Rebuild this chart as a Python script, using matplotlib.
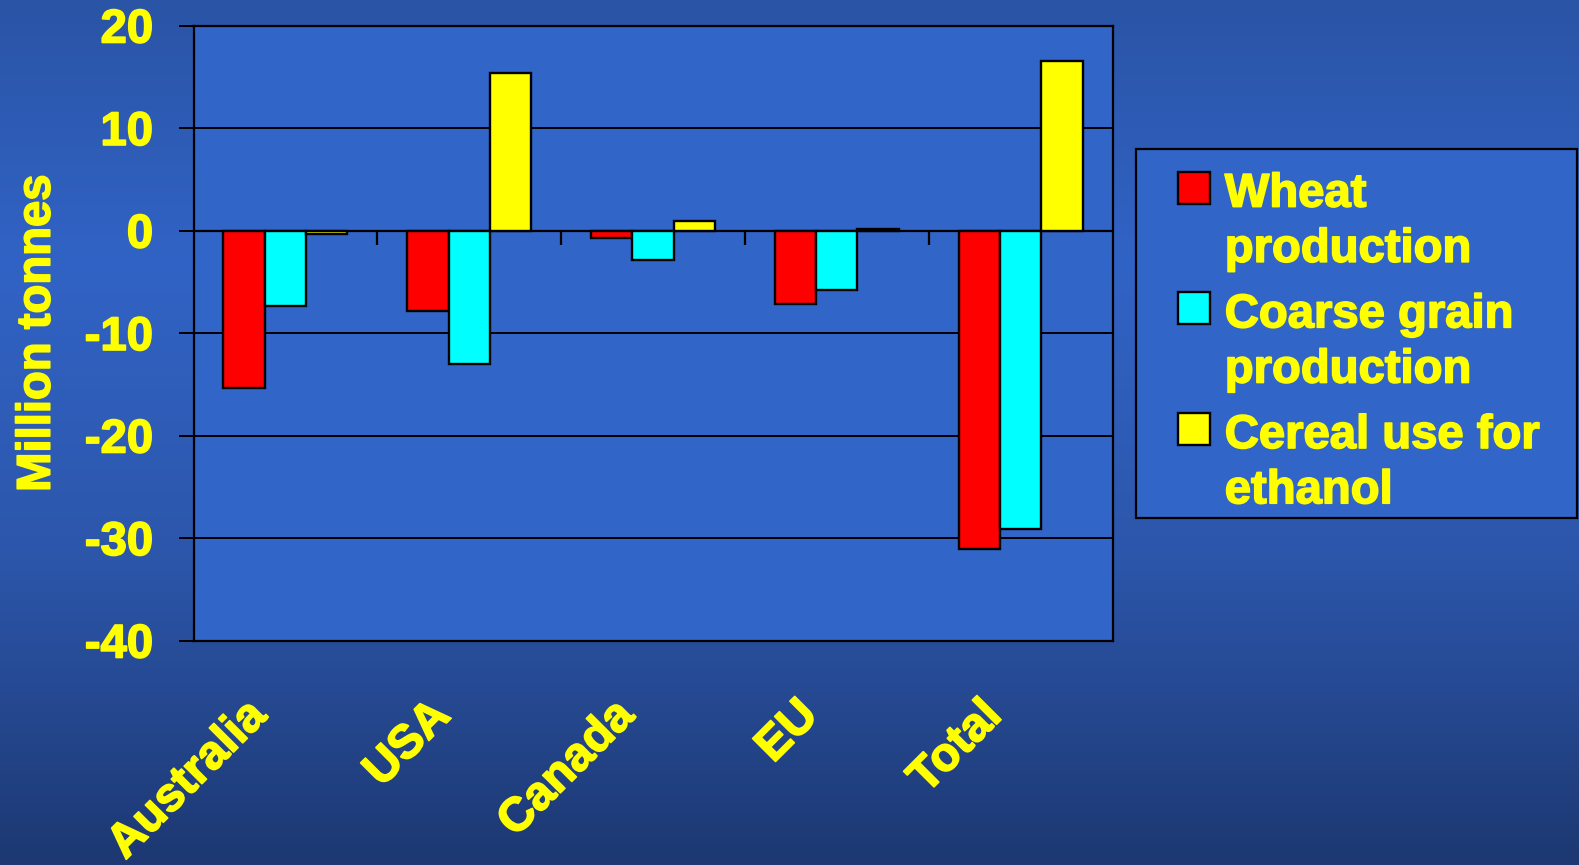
import matplotlib
matplotlib.use("Agg")
import matplotlib.pyplot as plt
import numpy as np
from matplotlib.colors import LinearSegmentedColormap
from matplotlib.patches import Rectangle
from matplotlib.legend_handler import HandlerPatch
from matplotlib.transforms import ScaledTranslation
import matplotlib.patheffects as pe

# data (million tonnes)
regions = ['Australia', 'USA', 'Canada', 'EU', 'Total']
wheat = [-15.4, -7.9, -0.7, -7.2, -31.1]
coarse = [-7.4, -13.0, -2.9, -5.8, -29.1]
ethanol = [-0.3, 15.4, 0.9, 0.15, 16.5]
series_names = ['Wheat\nproduction', 'Coarse grain\nproduction', 'Cereal use for\nethanol']
series_colors = ['#FF0000', '#00FFFF', '#FFFF00']
yticks = [20, 10, 0, -10, -20, -30, -40]

YELLOW = '#FFFF00'
PLOT_BG = '#3165C8'
plt.rcParams['font.family'] = ['Liberation Sans', 'DejaVu Sans']
plt.rcParams['font.weight'] = 'bold'
FS = 34
W, H = 1579, 865
bold = [pe.withStroke(linewidth=1.2, foreground=YELLOW)]

fig = plt.figure(figsize=(W / 100, H / 100), dpi=100)

# gradient background
bg = fig.add_axes([0, 0, 1, 1], zorder=-10)
cmap = LinearSegmentedColormap.from_list('bg', [
    (0.0, (42/255, 84/255, 165/255)),
    (0.30, (49/255, 99/255, 198/255)),
    (0.65, (44/255, 86/255, 170/255)),
    (1.0, (29/255, 56/255, 114/255)),
])
bg.imshow(np.linspace(0, 1, 256).reshape(-1, 1), aspect='auto', cmap=cmap,
          extent=[0, 1, 0, 1], origin='upper')
bg.axis('off')

# plot area (pixel box in the full size picture)
left, right, top, bottom = 193.5, 1112.5, 25.5, 640.5
ax = fig.add_axes([left / W, 1 - bottom / H, (right - left) / W, (bottom - top) / H])
ax.set_facecolor(PLOT_BG)

x = np.arange(len(regions))
w = 0.225
handles = []
for k, (vals, col) in enumerate(zip([wheat, coarse, ethanol], series_colors)):
    ax.bar(x + (k - 1) * w, vals, width=w, color=col, edgecolor='black',
           linewidth=1.7, zorder=3)
    handles.append(Rectangle((0, 0), 1, 1, facecolor=col, edgecolor='black', linewidth=1.7))

ax.set_xlim(-0.5, len(regions) - 0.5)
ax.set_ylim(-40, 20)
ax.set_yticks(yticks)
ax.set_yticklabels([str(v) for v in yticks], fontsize=FS, color=YELLOW, fontweight='bold')
ax.yaxis.grid(True, color='black', linewidth=1.4, zorder=1)
ax.set_axisbelow(True)
ax.tick_params(axis='y', direction='out', length=11, width=1.4, color='black', pad=18)
ax.axhline(0, color='black', linewidth=1.6, zorder=2)
# category separator ticks on the zero line
ax.vlines(x[:-1] + 0.5, -1.4, 0, color='black', linewidth=1.6, zorder=2)

ax.set_xticks(x)
ax.set_xticklabels(regions, rotation=45, ha='right', va='top', fontsize=FS,
                   color=YELLOW, fontweight='bold')
ax.tick_params(axis='x', length=0, pad=38)
shift = ScaledTranslation(-10 / 100, 0, fig.dpi_scale_trans)
for lab in ax.get_xticklabels():
    lab.set_transform(lab.get_transform() + shift)
for lab in ax.get_xticklabels() + ax.get_yticklabels():
    lab.set_path_effects(bold)
for s in ax.spines.values():
    s.set_color('black')
    s.set_linewidth(1.6)

ax.set_ylabel('Million tonnes', fontsize=FS, color=YELLOW, fontweight='bold', labelpad=18,
              path_effects=bold)


def square_handle(legend, orig_handle, xdescent, ydescent, width, height, fontsize):
    size = 23
    return Rectangle((width - size - xdescent, -ydescent + 0.756 * fontsize), size, size)


# legend frame drawn as its own box
leg_l, leg_t, leg_r, leg_b = 1136, 149, 1577, 518
fig.patches.append(Rectangle((leg_l / W, 1 - leg_b / H), (leg_r - leg_l) / W,
                             (leg_b - leg_t) / H, transform=fig.transFigure,
                             facecolor=PLOT_BG, edgecolor='black', linewidth=1.6, zorder=-5))

leg = ax.legend(handles, series_names, loc='upper left', mode='expand',
                bbox_to_anchor=(leg_l / W, 1 - leg_t / H, (leg_r - leg_l) / W, 0),
                bbox_transform=fig.transFigure, borderaxespad=0, fontsize=FS,
                frameon=False, borderpad=0.5, handlelength=1.06, handletextpad=0.32,
                labelspacing=0.455,
                handler_map={Rectangle: HandlerPatch(patch_func=square_handle)})
for t in leg.get_texts():
    t.set_color(YELLOW)
    t.set_fontweight('bold')
    t.set_linespacing(1.33)
    t.set_path_effects(bold)

fig.savefig('out.png', dpi=100)
